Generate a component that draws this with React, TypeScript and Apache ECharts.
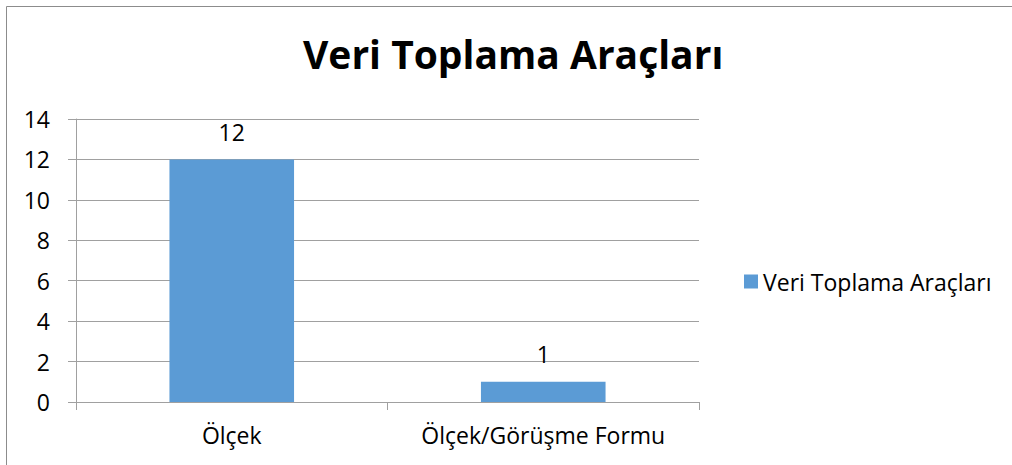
import React, { useEffect, useRef } from "react";
import * as echarts from "echarts";

const titleText = "Veri Toplama Araçları";
const seriesName = "Veri Toplama Araçları";
const categories = ["Ölçek", "Ölçek/Görüşme Formu"];
const values = [12, 1];
const yMin = 0;
const yMax = 14;
const yInterval = 2;

const FONT = "'Open Sans', sans-serif";

export default function App() {
  const ref = useRef<HTMLDivElement>(null);
  useEffect(() => {
    if (!ref.current) return;
    const chart = echarts.init(ref.current, null, { renderer: "svg" });
    chart.setOption({
      animation: false,
      backgroundColor: "#ffffff",
      title: {
        text: titleText,
        left: 303,
        top: 34,
        padding: 0,
        textStyle: { fontFamily: FONT, fontWeight: "bold", fontSize: 39, color: "#000000" },
      },
      graphic: [
        {
          type: "rect",
          shape: { x: 6.5, y: 6.5, width: 1200, height: 800 },
          style: { fill: "none", stroke: "#8c8c8c", lineWidth: 1 },
          silent: true,
          z: 100,
        },
      ],
      legend: {
        orient: "vertical",
        left: 739,
        top: 265,
        itemWidth: 14,
        itemHeight: 14,
        itemGap: 10,
        icon: "rect",
        textStyle: { fontFamily: FONT, fontSize: 23, color: "#000000" },
        data: [seriesName],
      },
      grid: { left: 76, top: 119, width: 623, height: 283, containLabel: false },
      xAxis: {
        type: "category",
        data: categories,
        axisLine: { show: true, lineStyle: { color: "#a0a0a0", width: 1 } },
        axisTick: { show: true, length: 8, alignWithLabel: false, lineStyle: { color: "#a0a0a0" } },
        axisLabel: {
          fontFamily: FONT,
          fontSize: 23,
          color: "#000000",
          margin: 21,
          interval: 0,
          hideOverlap: false,
        },
      },
      yAxis: {
        type: "value",
        min: yMin,
        max: yMax,
        interval: yInterval,
        axisLine: { show: true, lineStyle: { color: "#a0a0a0", width: 1 } },
        axisTick: { show: true, length: 8, lineStyle: { color: "#a0a0a0" } },
        axisLabel: { fontFamily: FONT, fontSize: 23, color: "#000000", margin: 26 },
        splitLine: { show: true, lineStyle: { color: "#a0a0a0", width: 1 } },
      },
      series: [
        {
          name: seriesName,
          type: "bar",
          data: values,
          barCategoryGap: "60%",
          itemStyle: { color: "#5b9bd5" },
          label: {
            show: true,
            position: "top",
            distance: 16,
            fontFamily: FONT,
            fontSize: 23,
            color: "#000000",
          },
        },
      ],
    });
    return () => chart.dispose();
  }, []);
  return (
    <div
      ref={ref}
      style={{ position: "absolute", left: 0, top: 0, width: 1012, height: 465 }}
    />
  );
}
